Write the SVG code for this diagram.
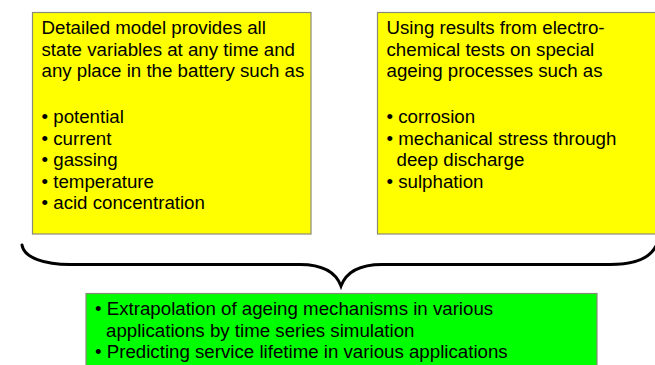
<svg xmlns="http://www.w3.org/2000/svg" width="655" height="365" viewBox="0 0 655 365">
<style>
.box{stroke:#8a8a7a;stroke-width:1.2}
.y{fill:#ffff00}
.g{fill:#00ff00}
text{font-family:"Liberation Sans",Arial,sans-serif;font-size:18.7px;fill:#000}
.brace{fill:none;stroke:#000;stroke-width:3;stroke-linecap:round}
</style>
<rect width="655" height="365" fill="#fff"/>
<g id="node-model">
<rect class="box y" x="32.5" y="12.5" width="278.5" height="221.5"/>
<text x="41.5" y="34">Detailed model provides all</text>
<text x="41.5" y="55.5">state variables at any time and</text>
<text x="41.5" y="77">any place in the battery such as</text>
<text x="41.5" y="123">• potential</text>
<text x="41.5" y="144.5">• current</text>
<text x="41.5" y="166">• gassing</text>
<text x="41.5" y="187.5">• temperature</text>
<text x="41.5" y="209">• acid concentration</text>
</g>
<g id="node-tests">
<rect class="box y" x="377.5" y="12.5" width="285" height="221.5"/>
<text x="386.5" y="34">Using results from electro-</text>
<text x="386.5" y="55.5">chemical tests on special</text>
<text x="386.5" y="77">ageing processes such as</text>
<text x="386.5" y="123">• corrosion</text>
<text x="386.5" y="144.5">• mechanical stress through</text>
<text x="396.5" y="166">deep discharge</text>
<text x="386.5" y="187.5">• sulphation</text>
</g>
<g id="connectors">
<path class="brace" d="M22,245 C24,258 45,264.5 70,264.5 L300,264.5 C320,264.5 335,270 341,286 C347,270 362,264.5 382,264.5 L610,264.5 C635,264.5 650,258 656,246"/>
</g>
<g id="node-result">
<rect class="box g" x="86" y="293.5" width="511" height="80"/>
<text x="95" y="315">• Extrapolation of ageing mechanisms in various</text>
<text x="106" y="336.5">applications by time series simulation</text>
<text x="95" y="358">• Predicting service lifetime in various applications</text>
</g>
</svg>
